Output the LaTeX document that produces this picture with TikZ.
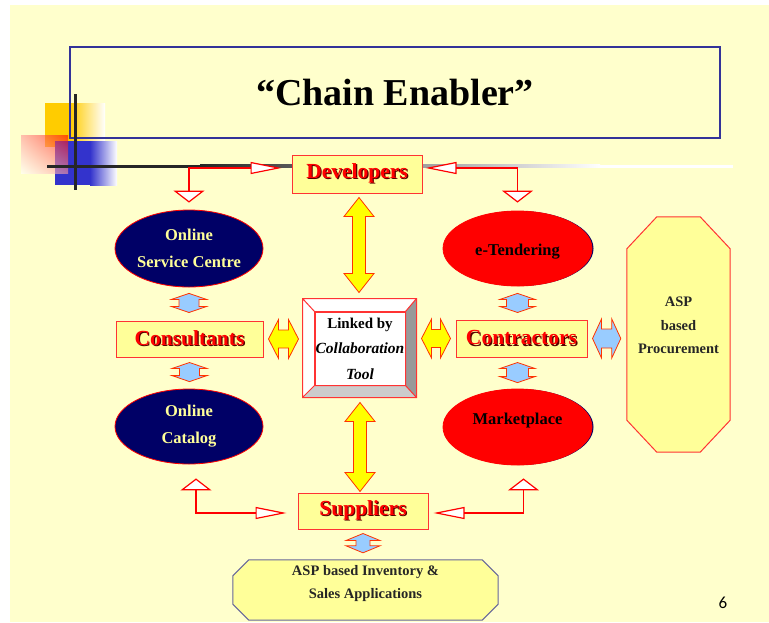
\documentclass[tikz,border=0pt]{standalone}
\usepackage{fontspec}
\setmainfont{Liberation Serif}
\newfontfamily\slidefont{Carlito}
\usetikzlibrary{arrows.meta, shapes.geometric, calc, shadings}

\definecolor{slidebg}{HTML}{FFFFCC}
\definecolor{boxfill}{HTML}{FFFF99}
\definecolor{boxline}{HTML}{FF3333}
\definecolor{titleline}{HTML}{333399}
\definecolor{navyfill}{HTML}{000066}
\definecolor{ovaltext}{HTML}{FFFF99}
\definecolor{blockyellow}{HTML}{FFFF00}
\definecolor{blockblue}{HTML}{99CCFF}
\definecolor{blockline}{HTML}{FF3300}
\definecolor{decoorange}{HTML}{FFCC00}
\definecolor{decoblue}{HTML}{3333CC}
\definecolor{octline}{HTML}{666699}
\definecolor{bevelgray}{HTML}{999999}
\definecolor{bevellight}{HTML}{CCCCCC}
\definecolor{shadowred}{HTML}{550000}

\newcommand{\redlabel}[1]{\rlap{\kern1.2pt\raisebox{-1.2pt}{\textcolor{shadowred}{#1}}}\textcolor{red}{#1}}

\begin{document}
\begin{tikzpicture}[x=1pt, y=-1pt,
	rolebox/.style={draw=boxline, fill=boxfill, line width=1pt, inner sep=0pt, font=\fontsize{21.5}{24}\selectfont\bfseries},
	navyoval/.style={ellipse, draw=red, fill=navyfill, text=ovaltext, line width=.8pt, inner sep=0pt, align=center, font=\fontsize{16.5}{27}\selectfont\bfseries},
	redoval/.style={ellipse, draw=red, fill=red, text=black, line width=.8pt, inner sep=0pt, align=center, font=\fontsize{16.5}{27}\selectfont\bfseries,
		preaction={fill=navyfill, transform canvas={xshift=1.5pt}}},
	octbox/.style={inner sep=0pt},
	octfill/.style={fill=boxfill, line width=1pt},
	asptext/.style={align=center, text=black!85, font=\fontsize{14.5}{23.5}\selectfont\bfseries},
	linkface/.style={draw=boxline, fill=white, line width=1pt, inner sep=0pt, align=center, minimum width=90, minimum height=73, font=\fontsize{15}{25.5}\selectfont\bfseries},
	bevelline/.style={draw=boxline, line width=1pt},
	feedlink/.style={draw=red, line width=1.2pt, arrows={Triangle[length=12pt,width=31pt,fill=white]-Triangle[length=31pt,width=12pt,fill=white]}},
	% start above target: #1 shaft half, #2 head half, #3 head length
	vblock/.style n args={3}{to path={let \p1=(\tikztostart), \p2=(\tikztotarget) in
		-- (\x1+#2,\y1-#3) -- (\x1+#1,\y1-#3) -- (\x1+#1,\y2+#3) -- (\x1+#2,\y2+#3) -- (\x1,\y2)
		-- (\x1-#2,\y2+#3) -- (\x1-#1,\y2+#3) -- (\x1-#1,\y1-#3) -- (\x1-#2,\y1-#3) -- cycle}},
	% start left of target
	hblock/.style n args={3}{to path={let \p1=(\tikztostart), \p2=(\tikztotarget) in
		-- (\x1+#3,\y1+#2) -- (\x1+#3,\y1+#1) -- (\x2-#3,\y1+#1) -- (\x2-#3,\y1+#2) -- (\x2,\y1)
		-- (\x2-#3,\y1-#2) -- (\x2-#3,\y1-#1) -- (\x1+#3,\y1-#1) -- (\x1+#3,\y1-#2) -- cycle}},
	yblock/.style={draw=blockline, fill=blockyellow, line width=.8pt},
	bblock/.style={draw=blockline, fill=blockblue, line width=.8pt}]

	\useasboundingbox (0,0) rectangle (769,622);
	\fill[slidebg] (10,5) rectangle (769,622);

	% corner ornament
	\fill[decoorange] (45,103) rectangle (70,147);
	\shade[left color=decoorange, right color=white] (70,103) rectangle (105,147);
	\fill[decoblue] (55,141) rectangle (90,185);
	\shade[left color=decoblue, right color=white] (90,141) rectangle (117,185);
	\shade[upper left=red!40, upper right=red, lower left=white, lower right=red!40, opacity=.6] (21,135) rectangle (68,173);

	\node[draw=titleline, line width=1.2pt, minimum width=650, minimum height=91, font=\fontsize{38}{40}\selectfont\bfseries] (title) at (395,92.5) {“Chain Enabler”};

	\fill[black!85] (47,164.5) rectangle (200,167.5);
	\shade[left color=black!85, right color=white] (200,164.5) rectangle (600,167.5);
	\fill[white] (600,164.5) rectangle (733,167.5);
	\fill[black!85] (73.5,94) rectangle (76.5,190);

	% parties
	\node[rolebox, minimum width=130, minimum height=38] (dev) at (357,174) {\redlabel{Developers}};
	\node[rolebox, minimum width=147, minimum height=36] (cons) at (189.5,339) {\redlabel{Consultants}};
	\node[rolebox, minimum width=131, minimum height=37] (contr) at (521.5,338.5) {\redlabel{Contractors}};
	\node[rolebox, minimum width=130, minimum height=36] (supp) at (363,511) {\redlabel{Suppliers}};

	\node[navyoval, minimum width=148, minimum height=77] (osc) at (189,248.5) {Online\\Service Centre};
	\node[navyoval, minimum width=148, minimum height=75] (ocat) at (189,426.5) {Online\\Catalog};
	\node[redoval, minimum width=149, minimum height=75] (etender) at (517.5,248.5) {\raisebox{-3pt}[\height][\depth]{e-Tendering}};
	\node[redoval, minimum width=149, minimum height=76] (market) at (517.5,427) {\raisebox{6pt}[\height][\depth]{Marketplace}};

	% collaboration tool
	\node[linkface] (link) at (360,348.5) {Linked by\\{\fontsize{15.5}{25.5}\selectfont\itshape Collaboration}\\{\fontsize{15.5}{25.5}\selectfont\itshape Tool}};
	\coordinate (lnw) at ([shift={(-12pt,13pt)}]link.north west);
	\coordinate (lne) at ([shift={(11pt,13pt)}]link.north east);
	\coordinate (lsw) at ([shift={(-12pt,-12pt)}]link.south west);
	\coordinate (lse) at ([shift={(11pt,-12pt)}]link.south east);
	\fill[white] (lnw) -- (lne) -- (link.north east) -- (link.north west) -- cycle;
	\fill[white] (lnw) -- (link.north west) -- (link.south west) -- (lsw) -- cycle;
	\fill[bevelgray] (lne) -- (lse) -- (link.south east) -- (link.north east) -- cycle;
	\fill[bevellight] (lsw) -- (link.south west) -- (link.south east) -- (lse) -- cycle;
	\draw[bevelline] (lnw) rectangle (lse)
		(lnw) -- (link.north west) (lne) -- (link.north east)
		(lsw) -- (link.south west) (lse) -- (link.south east)
		(link.north west) rectangle (link.south east);

	% ASP octagons
	\node[octbox, minimum width=103, minimum height=235] (aspproc) at (678.5,334.5) {};
	\filldraw[octfill, draw=boxline] ([xshift=30pt]aspproc.north west) -- ([xshift=-30pt]aspproc.north east)
		-- ([yshift=-32pt]aspproc.north east) -- ([yshift=32pt]aspproc.south east)
		-- ([xshift=-30pt]aspproc.south east) -- ([xshift=30pt]aspproc.south west)
		-- ([yshift=32pt]aspproc.south west) -- ([yshift=-32pt]aspproc.north west) -- cycle;
	\node[asptext] (proclabel) at ([yshift=9pt]aspproc.center) {ASP\\based\\Procurement};

	\node[octbox, minimum width=265, minimum height=60] (aspinv) at (365.5,590) {};
	\filldraw[octfill, draw=octline] ([xshift=16pt]aspinv.north west) -- ([xshift=-16pt]aspinv.north east)
		-- ([yshift=-16pt]aspinv.north east) -- ([yshift=16pt]aspinv.south east)
		-- ([xshift=-16pt]aspinv.south east) -- ([xshift=16pt]aspinv.south west)
		-- ([yshift=16pt]aspinv.south west) -- ([yshift=-16pt]aspinv.north west) -- cycle;
	\node[asptext] (invlabel) at ([yshift=6.5pt]aspinv.center) {ASP based Inventory \&\\Sales Applications};

	% open-headed links
	\draw[feedlink] ([yshift=7pt]osc.north) |- ([xshift=-10pt,yshift=6pt]dev.west);
	\draw[feedlink] ([yshift=8pt]etender.north) |- ([xshift=3pt,yshift=6pt]dev.east);
	\draw[feedlink] ([xshift=7pt,yshift=-14pt]ocat.south) |- ([xshift=-11pt,yshift=-2pt]supp.west);
	\draw[feedlink] ([xshift=6pt,yshift=-13pt]market.south) |- ([xshift=5pt,yshift=-2pt]supp.east);

	% block arrows
	\draw[yblock] ([xshift=2pt,yshift=-4pt]dev.south) to[vblock={6.5pt}{15pt}{19pt}] ([yshift=19pt]link.north);
	\draw[yblock] ([yshift=-17pt]link.south) to[vblock={6.5pt}{15pt}{19pt}] ([xshift=-4pt,yshift=1pt]supp.north);
	\draw[yblock] ([xshift=5pt]cons.east) to[hblock={9pt}{19.5pt}{10pt}] ([xshift=-16pt]cons.east -| link.west);
	\draw[yblock] ([xshift=16pt]contr.west -| link.east) to[hblock={9pt}{19.5pt}{10pt}] ([xshift=-5pt]contr.west);
	\draw[bblock] ([yshift=-6pt]osc.south) to[vblock={10pt}{17.5pt}{6pt}] ([yshift=8pt]cons.north);
	\draw[bblock] ([yshift=-5pt]cons.south) to[vblock={10pt}{17.5pt}{6pt}] ([yshift=7pt]ocat.north);
	\draw[bblock] ([yshift=-7pt]etender.south) to[vblock={11pt}{17.5pt}{6pt}] ([yshift=7pt]etender.south |- contr.north);
	\draw[bblock] ([yshift=-5pt]market.north |- contr.south) to[vblock={11pt}{17.5pt}{6pt}] ([yshift=6pt]market.north);
	\draw[bblock] ([xshift=5pt]contr.east) to[hblock={9.5pt}{19.5pt}{9pt}] ([xshift=-6pt]contr.east -| aspproc.west);
	\draw[bblock] ([yshift=-4pt]supp.south) to[vblock={7pt}{17pt}{7pt}] ([yshift=7pt]supp.south |- aspinv.north);

	\node[font=\slidefont\fontsize{17}{17}\selectfont] (pagenum) at (723,603) {6};
\end{tikzpicture}
\end{document}
